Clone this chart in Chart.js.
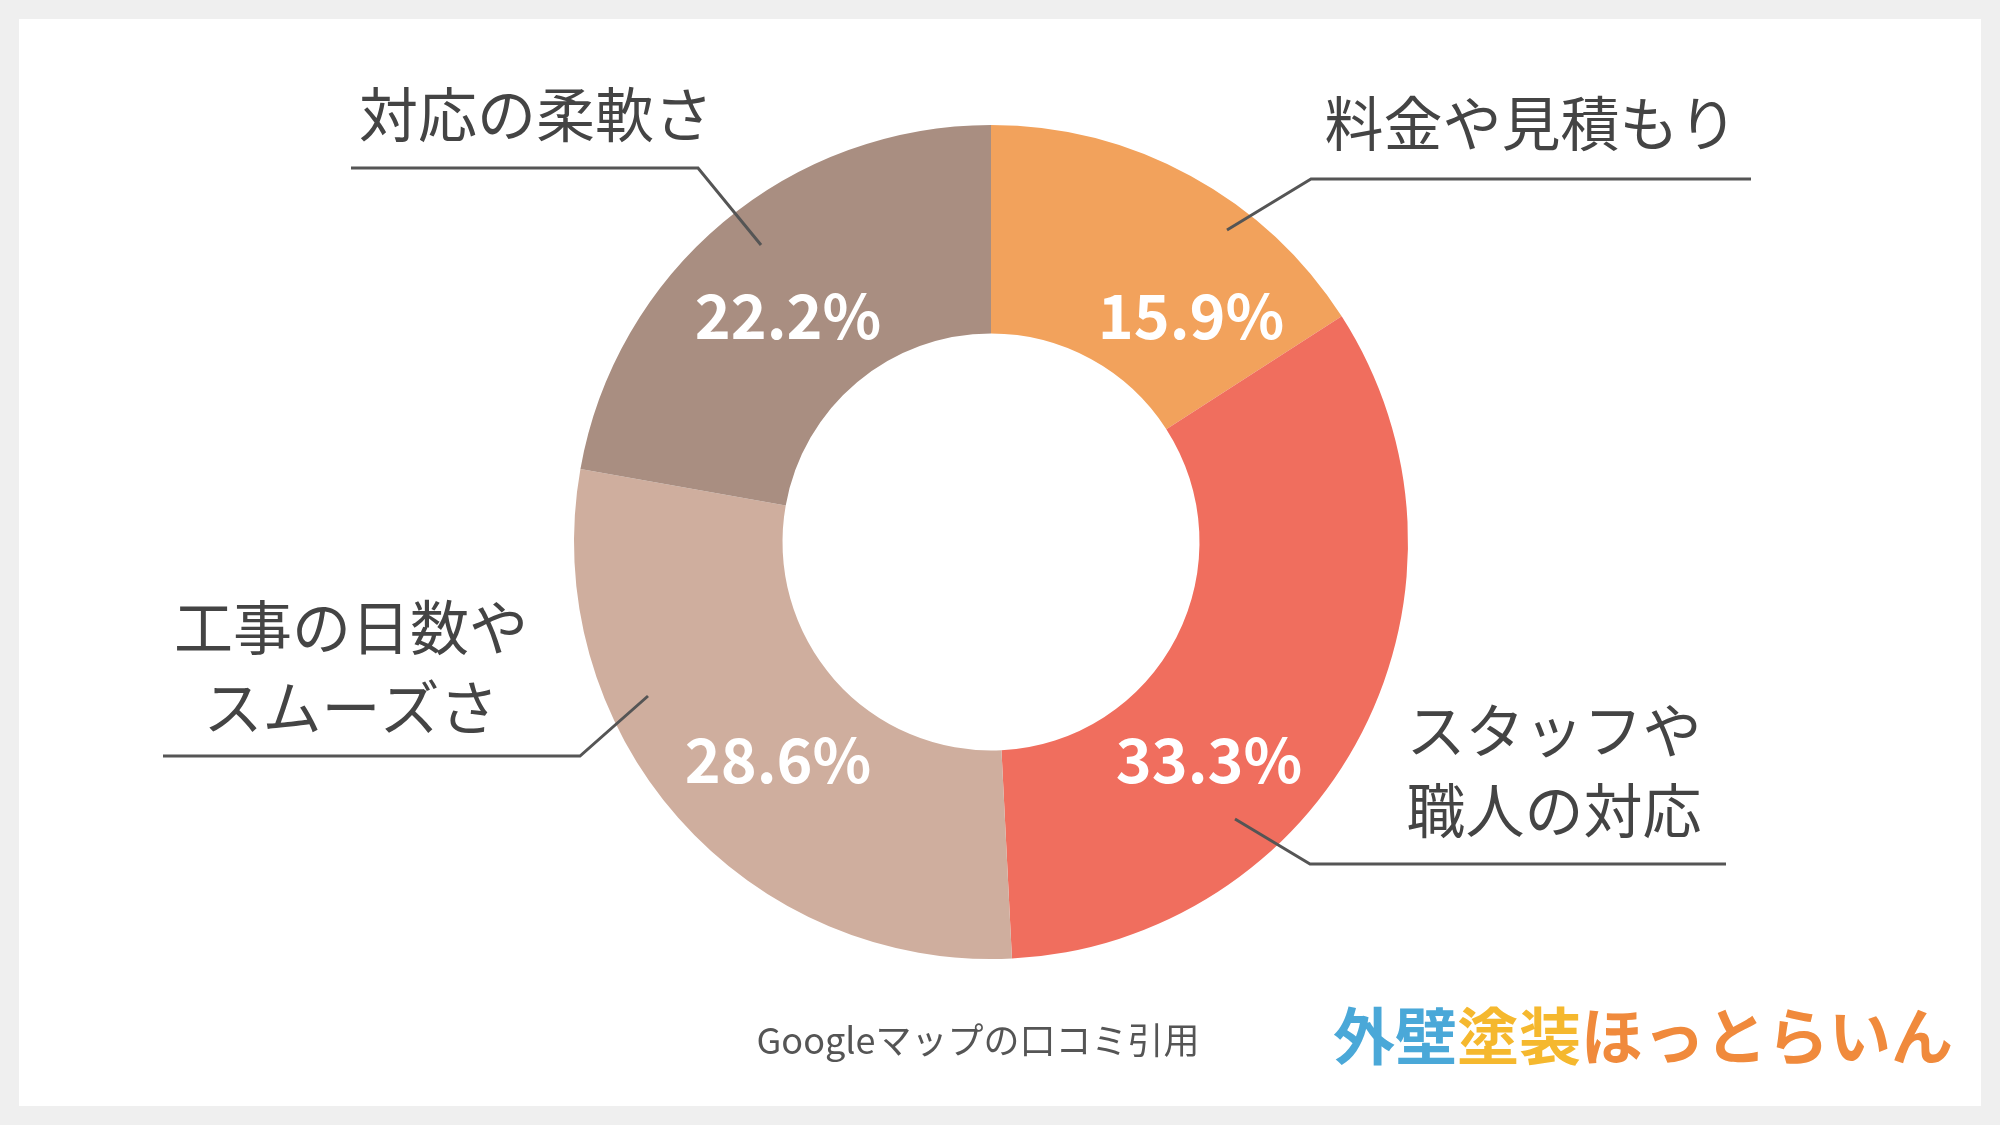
<!DOCTYPE html>
<html><head><meta charset="utf-8">
<script src="https://cdn.jsdelivr.net/npm/chart.js@4"></script>
<style>
body{margin:0;background:#efefef;width:2000px;height:1125px;overflow:hidden}
#card{position:absolute;left:19px;top:19px;width:1962px;height:1087px;background:#fff}
canvas{position:absolute;left:0;top:0}
</style></head><body>
<div id="card"></div>
<canvas id="c" width="2000" height="1125"></canvas>
<script>
const labels = ['料金や見積もり', 'スタッフや職人の対応', '工事の日数やスムーズさ', '対応の柔軟さ'];
const values = [15.9, 33.3, 28.6, 22.2];
const colors = ['#F2A25C', '#F06E5E', '#CFAE9E', '#A98E81'];
// label text lines, positions and leader lines per slice
const labelLines = [['料金や見積もり'], ['スタッフや', '職人の対応'], ['工事の日数や', 'スムーズさ'], ['対応の柔軟さ']];
const labelPos = [[1531,124], [1554,731], [351,628], [536,115]];
const leaders = [
  [[1227,230],[1311,179],[1751,179]],
  [[1235,819],[1310,864],[1726,864]],
  [[648,696],[580,756],[163,756]],
  [[761,245],[698,168],[351,168]]
];
const pctPos = [[1191,316],[1209,760],[778,760],[788,316]];

const font = '"Noto Sans CJK JP", "Noto Sans", sans-serif';

const overlay = {
  id: 'overlay',
  afterDraw(chart){
    const ctx = chart.ctx;
    ctx.save();
    ctx.textAlign = 'center';
    ctx.textBaseline = 'middle';
    // percentages
    ctx.fillStyle = '#fff';
    ctx.font = 'bold 61px ' + font;
    values.forEach((v,i) => ctx.fillText(v.toFixed(1) + '%', pctPos[i][0], pctPos[i][1]));
    // category labels
    ctx.fillStyle = '#444';
    ctx.font = '59px ' + font;
    labelLines.forEach((lines,i) => {
      lines.forEach((t,j) => ctx.fillText(t, labelPos[i][0], labelPos[i][1] + j*80));
    });
    // leader lines
    ctx.strokeStyle = '#555';
    ctx.lineWidth = 3;
    leaders.forEach(pts => {
      ctx.beginPath();
      ctx.moveTo(pts[0][0], pts[0][1]);
      pts.slice(1).forEach(p => ctx.lineTo(p[0], p[1]));
      ctx.stroke();
    });
    // footer
    ctx.fillStyle = '#555';
    ctx.font = '36px ' + font;
    ctx.fillText('Googleマップの口コミ引用', 978, 1040);
    // logo
    ctx.textAlign = 'left';
    ctx.font = 'bold 62px ' + font;
    let x = 1333;
    [['外壁','#4AA8D8'],['塗装','#F5B82E'],['ほっとらいん','#F08A3C']].forEach(([t,c]) => {
      ctx.fillStyle = c;
      ctx.fillText(t, x, 1036);
      x += ctx.measureText(t).width;
    });
    ctx.restore();
  }
};

new Chart(document.getElementById('c'), {
  type: 'doughnut',
  data: {
    labels: labels,
    datasets: [{ data: values, backgroundColor: colors, borderWidth: 0 }]
  },
  options: {
    responsive: false,
    animation: false,
    cutout: '50%',
    layout: { padding: { left: 574, right: 592, top: 125, bottom: 166 } },
    plugins: { legend: { display: false }, tooltip: { enabled: false } }
  },
  plugins: [overlay]
});
</script>
</body></html>
